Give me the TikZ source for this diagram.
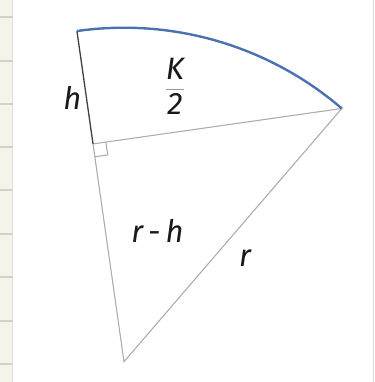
\documentclass[tikz,border=0pt]{standalone}
\usepackage{amsmath}
\usepackage{fontspec}
\setmainfont{Fira Sans}
\usetikzlibrary{calc}
\definecolor{arcblue}{HTML}{4A72B2}
\definecolor{paper}{HTML}{F6F4E8}

\begin{document}
\begin{tikzpicture}[
  x=1pt, y=1pt,
  every node/.style={font=\fontsize{31}{37}\selectfont\itshape, text=black!90},
  side/.style={draw=black!32, line width=1.1pt},
  height/.style={draw=black!75, line width=1.3pt},
  arcline/.style={draw=arcblue, line width=2.4pt},
  ruled/.style={draw=black!18, line width=1.3pt}
]
  \useasboundingbox (0,0) rectangle (374,382);
  % ruled margin of the page
  \fill[paper] (0,0) rectangle (12.5,382);
  \draw[black!12, line width=0.8pt] (12.5,0) -- (12.5,382);
  \foreach \y in {18,61,105,148,192,235,278,321,365}
    \draw[ruled] (0,\y) -- (12.5,\y);
  \draw[black!15, line width=0.8pt] (373,0) -- (373,382);

  \coordinate (O) at (124,20.3);
  \coordinate (A) at ($(O)+(98.1:334pt)$);
  \coordinate (B) at ($(O)+(49.3:334pt)$);
  \coordinate (F) at ($(O)!(B)!(A)$);
  \coordinate (F1) at ($(F)!13pt!(B)$);
  \coordinate (F2) at ($(F)!13pt!(O)$);

  \draw[side] (F) -- (B) -- (O) -- (F);
  \draw[side] (F1) -- ($(F1)+(F2)-(F)$) -- (F2);
  \draw[height] (A) -- (F);
  \draw[arcline] (A) arc[start angle=98.1, end angle=49.3, radius=334pt];

  \node (h) at (72.5,284.5) {h};
  \node (half) at (175,296) {$\color{black!40}\dfrac{\textcolor{black!90}{\mbox{K}}}{\textcolor{black!90}{\mbox{2}}}$};
  \node (rh) at (157.5,151.5) {r\,-\,h};
  \node (r) at (245,124) {r};
\end{tikzpicture}
\end{document}
